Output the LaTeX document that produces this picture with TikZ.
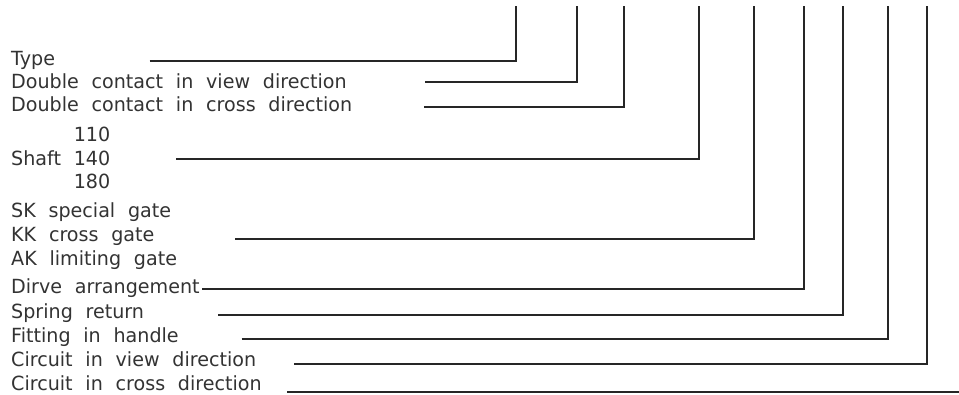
\documentclass[tikz,border=0pt]{standalone}
\usepackage{fontspec}
\setmainfont{DejaVu Sans}[FakeStretch=0.98,WordSpace=2.1]
\begin{document}
\begin{tikzpicture}[x=1pt,y=-1pt,
  lbl/.style={anchor=base west,inner sep=0pt,text=black!80,font=\fontsize{19.5}{20}\selectfont},
  lead/.style={line width=2pt,draw=black!85,line join=miter}]
\useasboundingbox (0,0) rectangle (959,394);
% labels
\node[lbl] (type)   at (11,65)    {Type};
\node[lbl] (dcv)    at (11,88)    {Double contact in view direction};
\node[lbl] (dcc)    at (11,111.5) {Double contact in cross direction};
\node[lbl] (shaft)  at (11,165)   {Shaft 140};
\node[lbl,anchor=base east] (s110) at ([yshift=24pt]shaft.base east) {110};
\node[lbl,anchor=base east] (s180) at ([yshift=-23pt]shaft.base east) {180};
\node[lbl] (sk)     at (11,217.5) {SK special gate};
\node[lbl] (kk)     at (11,241.5) {KK cross gate};
\node[lbl] (ak)     at (11,265.5) {AK limiting gate};
\node[lbl] (dirve)  at (11,293)   {Dirve arrangement};
\node[lbl] (spring) at (11,318)   {Spring return};
\node[lbl] (fit)    at (11,342.5) {Fitting in handle};
\node[lbl] (cv)     at (11,366.5) {Circuit in view direction};
\node[lbl] (cc)     at (11,390)   {Circuit in cross direction};
% leader start points and top ends
\coordinate (a1) at (149.5,61);  \coordinate (t1) at (516,6);
\coordinate (a2) at (425,82);    \coordinate (t2) at (577,6);
\coordinate (a3) at (424,107);   \coordinate (t3) at (624,6);
\coordinate (a4) at (176,159);   \coordinate (t4) at (699,6);
\coordinate (a5) at (235,239);   \coordinate (t5) at (754,6);
\coordinate (a6) at (202,289);   \coordinate (t6) at (804,6);
\coordinate (a7) at (218,315);   \coordinate (t7) at (843,6);
\coordinate (a8) at (241.7,339); \coordinate (t8) at (888,6);
\coordinate (a9) at (294,364);   \coordinate (t9) at (927,6);
\coordinate (a10) at (287,392);  \coordinate (t10) at (959,392);
\draw[lead] (a1) -| (t1);
\draw[lead] (a2) -| (t2);
\draw[lead] (a3) -| (t3);
\draw[lead] (a4) -| (t4);
\draw[lead] (a5) -| (t5);
\draw[lead] (a6) -| (t6);
\draw[lead] (a7) -| (t7);
\draw[lead] (a8) -| (t8);
\draw[lead] (a9) -| (t9);
\draw[lead] (a10) -- (t10);
\end{tikzpicture}
\end{document}
